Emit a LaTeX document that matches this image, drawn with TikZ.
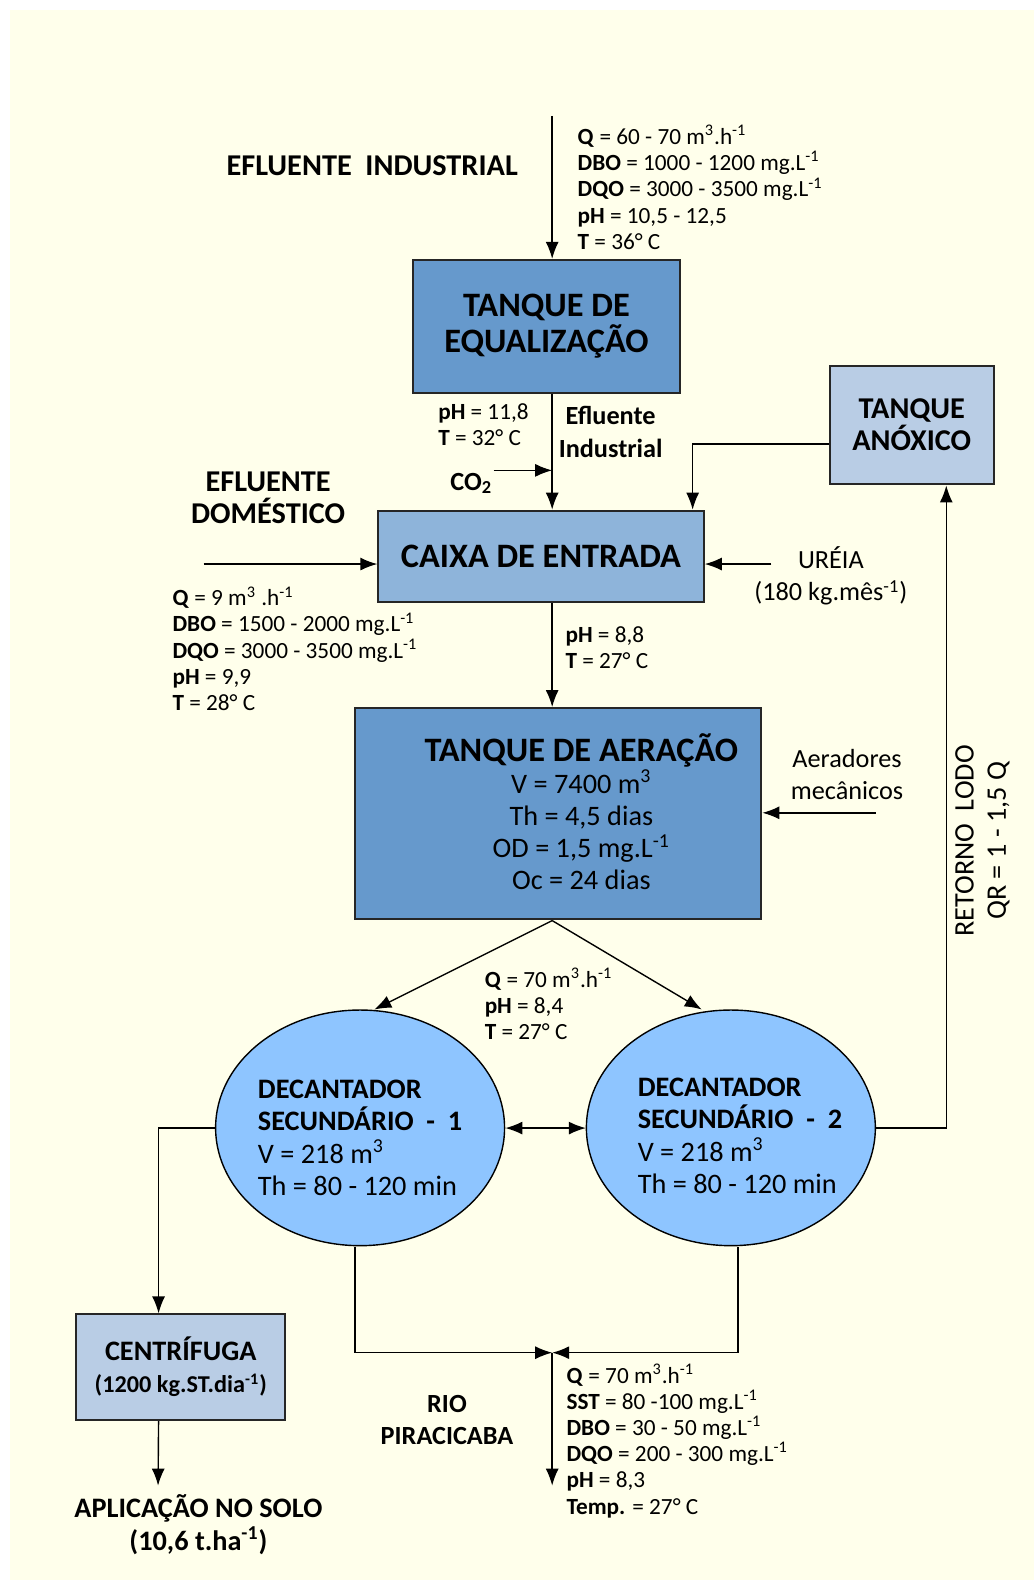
\documentclass[tikz,border=0pt]{standalone}
\usepackage{fontspec}
\setmainfont{Carlito}
\usetikzlibrary{shapes.geometric,arrows.meta}
\definecolor{fundo}{HTML}{FFFFEB}
\definecolor{azulesc}{HTML}{6699CC}
\definecolor{azulmed}{HTML}{8EB4DA}
\definecolor{azulcla}{HTML}{B9CDE5}
\definecolor{azuldec}{HTML}{8EC5FF}
\newcommand{\expo}[1]{\textsuperscript{#1}}

\begin{document}
\begin{tikzpicture}[x=0.5pt, y=-0.5pt,
  >={Latex[length=8.5pt,width=6.5pt]},
  caixa/.style={draw=black!85, line width=1pt, inner sep=0pt},
  titulo/.style={font=\bfseries\fontsize{15}{16}\selectfont, align=center},
  texto/.style={font=\fontsize{14}{16}\selectfont, align=center},
  param/.style={font=\fontsize{11.5}{13}\selectfont, align=left, anchor=north west, inner sep=0pt},
  fluxo/.style={->, line width=0.7pt}]
  \fill[white] (0,0) rectangle (1034,1580);
  \fill[fundo] (10,10) rectangle (1034,1580);
  \useasboundingbox (0,0) rectangle (1034,1580);

  \begin{scope}[xshift=-0.8pt, xscale=1.0103, yscale=1.007, transform shape]
  % tanques e caixas
  \node(equ)[caixa, fill=azulesc, minimum width=132.5pt, minimum height=66pt, titulo, font=\bfseries\fontsize{17}{18}\selectfont] at (542.5,324) {TANQUE DE\\EQUALIZAÇÃO};
  \node(anox)[caixa, fill=azulcla, minimum width=81pt, minimum height=59pt, titulo] at (904,422) {TANQUE\\ANÓXICO};
  \node(cx)[caixa, fill=azulmed, minimum width=161pt, minimum height=45.5pt, titulo, font=\bfseries\fontsize{17}{18}\selectfont] at (537,552.5) {CAIXA DE ENTRADA};
  \node(aer)[caixa, fill=azulesc, minimum width=201pt, minimum height=105pt] at (554,808) {};
  \node(aertxt)[texto] at (577,806) {{\bfseries\fontsize{17}{16}\selectfont TANQUE DE AERAÇÃO}\\V = 7400 m\expo{3}\\Th = 4,5 dias\\OD = 1,5 mg.L\expo{-1}\\Oc = 24 dias};
  \node(d1)[ellipse, draw, line width=0.7pt, fill=azuldec, minimum width=143pt, minimum height=117pt] at (358,1120) {};
  \node(d2)[ellipse, draw, line width=0.7pt, fill=azuldec, minimum width=143pt, minimum height=117pt] at (725,1120) {};
  \node(d1txt)[texto, align=left] at (358,1130) {\textbf{DECANTADOR}\\\textbf{SECUNDÁRIO \ - \ 1}\\V = 218 m\expo{3}\\Th = 80 - 120 min};
  \node(d2txt)[texto, align=left] at (734,1128) {\textbf{DECANTADOR}\\\textbf{SECUNDÁRIO \ - \ 2}\\V = 218 m\expo{3}\\Th = 80 - 120 min};
  \node(cen)[caixa, fill=azulcla, minimum width=103.5pt, minimum height=52.5pt, align=center, font=\bfseries\fontsize{12}{16}\selectfont] at (180.5,1357.5) {{\fontsize{14}{16}\selectfont CENTRÍFUGA}\\(1200 kg.ST.dia\expo{-1})};

  % rotulos
  \node(efind)[titulo] at (370,165) {EFLUENTE \ INDUSTRIAL};
  \node(efdom)[titulo] at (267,494) {EFLUENTE\\DOMÉSTICO};
  \node(efl)[titulo, font=\bfseries\fontsize{13}{16}\selectfont] at (606,429) {Efluente\\Industrial};
  \node(co2txt)[titulo, font=\bfseries\fontsize{13}{16}\selectfont] at (468,480) {CO\textsubscript{2}};
  \node(uretxt)[texto, font=\fontsize{13}{16}\selectfont] at (824,572) {URÉIA\\(180 kg.mês\expo{-1})};
  \node(aertxt2)[texto, font=\fontsize{13}{16}\selectfont] at (840,769) {Aeradores\\mecânicos};
  \node(ret)[texto, rotate=90] at (974,835) {RETORNO \ LODO\\QR = 1 - 1,5 Q};
  \node(rio)[titulo, font=\bfseries\fontsize{13}{16}\selectfont] at (444,1410) {RIO\\PIRACICABA};
  \node(apltxt)[titulo, font=\bfseries\fontsize{14}{16}\selectfont] at (198,1514) {APLICAÇÃO NO SOLO\\(10,6 t.ha\expo{-1})};

  % parametros
  \node(p1)[param] at (573,124) {\textbf{Q} = 60 - 70 m\expo{3}.h\expo{-1}\\\textbf{DBO} = 1000 - 1200 mg.L\expo{-1}\\\textbf{DQO} = 3000 - 3500 mg.L\expo{-1}\\\textbf{pH} = 10,5 - 12,5\\\textbf{T} = 36° C};
  \node(p2)[param] at (435,400) {\textbf{pH} = 11,8\\\textbf{T} = 32° C};
  \node(p3)[param] at (172,582) {\textbf{Q} = 9 m\expo{3} .h\expo{-1}\\\textbf{DBO} = 1500 - 2000 mg.L\expo{-1}\\\textbf{DQO} = 3000 - 3500 mg.L\expo{-1}\\\textbf{pH} = 9,9\\\textbf{T} = 28° C};
  \node(p4)[param] at (561,622) {\textbf{pH} = 8,8\\\textbf{T} = 27° C};
  \node(p5)[param] at (481,961) {\textbf{Q} = 70 m\expo{3}.h\expo{-1}\\\textbf{pH} = 8,4\\\textbf{T} = 27° C};
  \node(p6)[param] at (562,1354) {\textbf{Q} = 70 m\expo{3}.h\expo{-1}\\\textbf{SST} = 80 -100 mg.L\expo{-1}\\\textbf{DBO} = 30 - 50 mg.L\expo{-1}\\\textbf{DQO} = 200 - 300 mg.L\expo{-1}\\\textbf{pH} = 8,3\\\textbf{Temp.} = 27° C};

  % pontos livres
  \coordinate(ind) at (548,115);
  \coordinate(co2) at (490,467);
  \coordinate(dom) at (203,560);
  \coordinate(ure) at (765,560);
  \coordinate(aerad) at (868,807);
  \coordinate(junta) at (548,1343);
  \coordinate(saida) at (548,1475);
  \coordinate(apl) at (158,1475);

  % fluxos
  \draw[fluxo] (ind) -- (ind |- equ.north);
  \draw[fluxo] (equ.south -| ind) -- (cx.north -| ind);
  \draw[fluxo] (co2) -- (co2 -| ind);
  \draw[fluxo] ([yshift=-9.5pt]anox.west) -| ([xshift=-6pt]cx.north east);
  \draw[fluxo] (dom) -- (dom -| cx.west);
  \draw[fluxo] (ure) -- (ure -| cx.east);
  \draw[fluxo] (cx.south -| ind) -- (aer.north -| ind);
  \draw[fluxo] (aerad) -- (aerad -| aer.east);
  \draw[fluxo] (aer.south -| ind) -- ([xshift=7pt]d1.north);
  \draw[fluxo] (aer.south -| ind) -- ([xshift=-14.5pt]d2.north);
  \draw[fluxo, <->] (d1.east) -- (d2.west);
  \draw[fluxo] (d2.east) -| ([xshift=17pt]anox.south);
  \draw[fluxo] (d1.west) -| ([xshift=-11pt]cen.north);
  \draw[fluxo] ([xshift=-11pt]cen.south) -- (apl);
  \draw[fluxo] ([xshift=-2.5pt]d1.south) |- (junta);
  \draw[fluxo] ([xshift=3.5pt]d2.south) |- (junta);
  \draw[fluxo] (junta) -- (saida);
  \end{scope}
\end{tikzpicture}
\end{document}
